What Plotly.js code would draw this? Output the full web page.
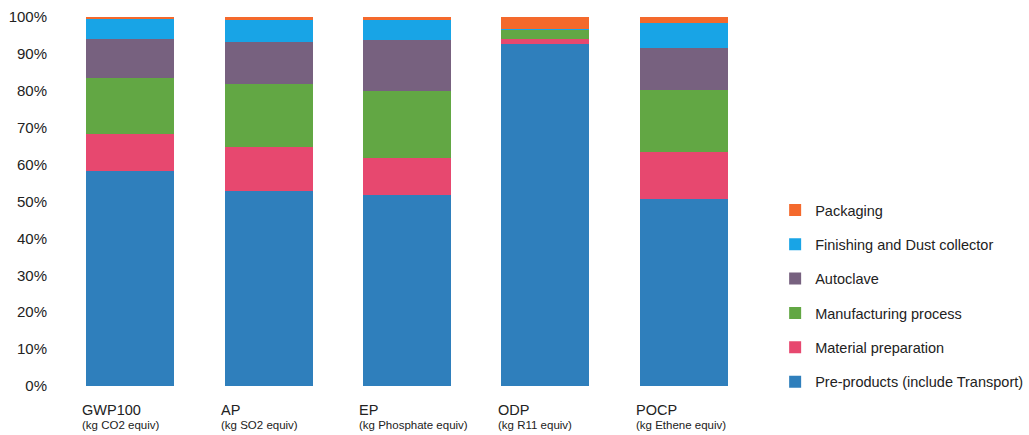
<!DOCTYPE html>
<html>
<head>
<meta charset="utf-8">
<script src="https://cdn.plot.ly/plotly-3.0.1.min.js"></script>
<style>html,body{margin:0;padding:0;background:#fff;}#chart{width:1029px;height:435px;}</style>
</head>
<body>
<div id="chart"></div>
<script>
// Categories and their unit sub-labels
const categories = ["GWP100", "AP", "EP", "ODP", "POCP"];
const units = ["(kg CO2 equiv)", "(kg SO2 equiv)", "(kg Phosphate equiv)", "(kg R11 equiv)", "(kg Ethene equiv)"];

// Series values (% share), bottom to top
const preProducts   = [58.3, 52.9, 51.8, 92.8, 50.7];
const materialPrep  = [10.1, 11.8, 10.1, 1.3, 12.8];
const manufacturing = [15.1, 17.1, 18.1, 2.4, 16.7];
const autoclave     = [10.5, 11.5, 13.7, 0.1, 11.3];
const finishing     = [5.4, 5.9, 5.5, 0.1, 6.8];
const packaging     = [0.6, 0.7, 0.8, 3.3, 1.6];

const seriesNames = ["Pre-products (include Transport)", "Material preparation", "Manufacturing process", "Autoclave", "Finishing and Dust collector", "Packaging"];
const seriesValues = [preProducts, materialPrep, manufacturing, autoclave, finishing, packaging];
const seriesColors = ["#2f7fbc", "#e7486f", "#62a744", "#77617f", "#18a4e6", "#f4692c"];

const yTickVals = [0, 10, 20, 30, 40, 50, 60, 70, 80, 90, 100];
const yTickText = ["0%", "10%", "20%", "30%", "40%", "50%", "60%", "70%", "80%", "90%", "100%"];

const FONT = "Liberation Sans, Arial, Helvetica, sans-serif";
const TXT = "#222222";

const traces = seriesNames.map((name, i) => ({
  type: "bar",
  name: name,
  x: categories.map((c, k) => k),
  y: seriesValues[i],
  marker: { color: seriesColors[i], line: { width: 0 } },
  legendgroup: "g" + i,
  legendrank: (seriesNames.length - i) * 10,
  hoverinfo: "name+y"
}));

const annotations = [];
categories.forEach((c, k) => {
  annotations.push({
    x: k - 0.36, xref: "x", xanchor: "left",
    y: -0.065, yref: "paper", yanchor: "middle",
    text: c, showarrow: false,
    font: { family: FONT, size: 14.5, color: TXT }
  });
  annotations.push({
    x: k - 0.36, xref: "x", xanchor: "left",
    y: -0.106, yref: "paper", yanchor: "middle",
    text: units[k], showarrow: false,
    font: { family: FONT, size: 11.5, color: TXT }
  });
});

const layout = {
  width: 1029, height: 435,
  paper_bgcolor: "#ffffff", plot_bgcolor: "#ffffff",
  margin: { l: 61, r: 276, t: 17, b: 49, autoexpand: false },
  barmode: "stack",
  bargap: 0.365,
  showlegend: true,
  legend: {
    x: 1.032, xanchor: "left",
    y: 0.244, yanchor: "middle",
    traceorder: "grouped",
    tracegroupgap: 12.5,
    font: { family: FONT, size: 14.5, color: TXT },
    bgcolor: "rgba(0,0,0,0)"
  },
  xaxis: {
    range: [-0.5, 4.5],
    showticklabels: false,
    showgrid: false, zeroline: false, showline: false, ticks: ""
  },
  yaxis: {
    range: [0, 100],
    tickvals: yTickVals, ticktext: yTickText,
    showgrid: false, zeroline: false, showline: false, ticks: "",
    ticklabelstandoff: 13,
    tickfont: { family: FONT, size: 15, color: TXT }
  },
  annotations: annotations,
  font: { family: FONT, color: TXT }
};

Plotly.newPlot("chart", traces, layout, { displayModeBar: false, staticPlot: true });
</script>
</body>
</html>
